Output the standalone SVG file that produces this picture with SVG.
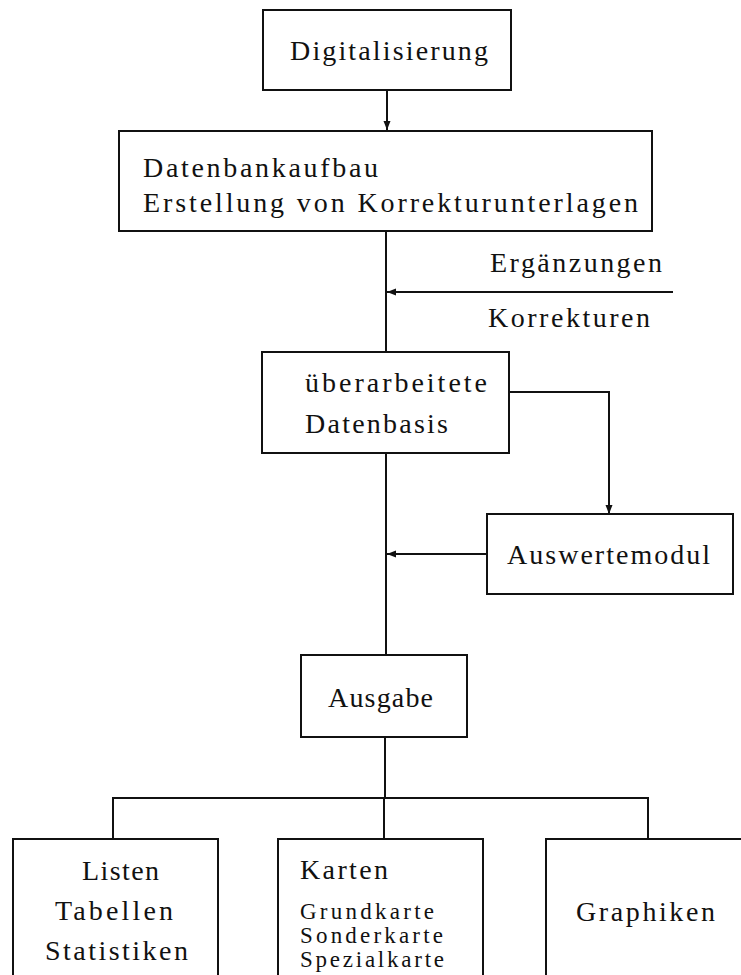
<svg xmlns="http://www.w3.org/2000/svg" width="741" height="975" viewBox="0 0 741 975">
<style>
  .box { fill: #fff; stroke: #111; stroke-width: 2; }
  .t { font-family: "Liberation Serif", "Times New Roman", serif; font-size: 28px; fill: #111; }
  .s { font-family: "Liberation Serif", "Times New Roman", serif; font-size: 23px; fill: #111; }
  .c { fill: none; stroke: #111; stroke-width: 2; }
</style>
<defs>
  <marker id="arr" markerUnits="userSpaceOnUse" markerWidth="10" markerHeight="8" refX="9" refY="4" orient="auto">
    <path d="M0,0.5 L9,4 L0,7.5 z" fill="#111"/>
  </marker>
</defs>
<rect width="741" height="975" fill="#fff"/>

<g id="connectors">
  <path class="c" d="M387,90 V130" marker-end="url(#arr)"/>
  <path class="c" d="M386,231 V352"/>
  <path class="c" d="M673,292 H387" marker-end="url(#arr)"/>
  <path class="c" d="M509,392 H609 V514" marker-end="url(#arr)"/>
  <path class="c" d="M487,554 H387" marker-end="url(#arr)"/>
  <path class="c" d="M386,453 V655"/>
  <path class="c" d="M385,737 V798"/>
  <path class="c" d="M113,839 V798 H648 V839"/>
  <path class="c" d="M384,798 V839"/>
</g>

<g id="digitalisierung">
  <rect class="box" x="263" y="10" width="248" height="80"/>
  <text class="t" x="290" y="60" textLength="198" lengthAdjust="spacing">Digitalisierung</text>
</g>

<g id="datenbankaufbau">
  <rect class="box" x="119" y="131" width="533" height="100"/>
  <text class="t" x="143" y="177" textLength="235" lengthAdjust="spacing">Datenbankaufbau</text>
  <text class="t" x="143" y="212" textLength="495" lengthAdjust="spacing">Erstellung von Korrekturunterlagen</text>
</g>

<g id="ergaenzungen">
  <text class="t" x="490" y="272" textLength="172" lengthAdjust="spacing">Ergänzungen</text>
  <text class="t" x="488" y="327" textLength="162" lengthAdjust="spacing">Korrekturen</text>
</g>

<g id="datenbasis">
  <rect class="box" x="262" y="352" width="247" height="101"/>
  <text class="t" x="305" y="392" textLength="182" lengthAdjust="spacing">überarbeitete</text>
  <text class="t" x="305" y="433" textLength="143" lengthAdjust="spacing">Datenbasis</text>
</g>

<g id="auswertemodul">
  <rect class="box" x="487" y="514" width="246" height="80"/>
  <text class="t" x="507" y="564" textLength="203" lengthAdjust="spacing">Auswertemodul</text>
</g>

<g id="ausgabe">
  <rect class="box" x="301" y="655" width="166" height="82"/>
  <text class="t" x="328" y="707" textLength="105" lengthAdjust="spacing">Ausgabe</text>
</g>

<g id="listen">
  <rect class="box" x="13" y="839" width="205" height="160"/>
  <text class="t" x="82" y="880" textLength="77" lengthAdjust="spacing">Listen</text>
  <text class="t" x="55" y="920" textLength="118" lengthAdjust="spacing">Tabellen</text>
  <text class="t" x="45" y="960" textLength="143" lengthAdjust="spacing">Statistiken</text>
</g>

<g id="karten">
  <rect class="box" x="278" y="839" width="205" height="160"/>
  <text class="t" x="300" y="879" textLength="88" lengthAdjust="spacing">Karten</text>
  <text class="s" x="300" y="919" textLength="134" lengthAdjust="spacing">Grundkarte</text>
  <text class="s" x="300" y="943" textLength="143" lengthAdjust="spacing">Sonderkarte</text>
  <text class="s" x="300" y="967" textLength="144" lengthAdjust="spacing">Spezialkarte</text>
</g>

<g id="graphiken">
  <rect class="box" x="546" y="839" width="220" height="160"/>
  <text class="t" x="576" y="921" textLength="139" lengthAdjust="spacing">Graphiken</text>
</g>
</svg>
